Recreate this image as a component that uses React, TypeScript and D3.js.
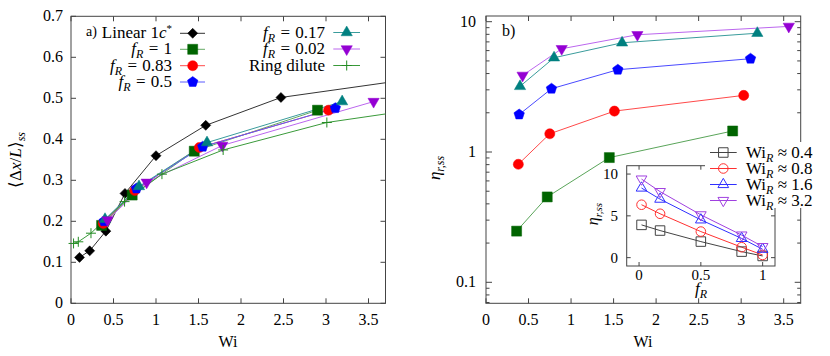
import React from 'react';
import * as d3 from 'd3';

// ---- data ----
const wiLinear = [0.1, 0.22, 0.41, 0.635, 1.0, 1.585, 2.47, 4.9];
const extLinear = [0.112, 0.128, 0.176, 0.268, 0.36, 0.434, 0.502, 0.573];
const wiRing = [0.03, 0.086, 0.235, 0.63, 1.07, 1.79, 3.01, 4.8];
const extRing = [0.146, 0.15, 0.171, 0.248, 0.315, 0.374, 0.441, 0.495];

const wiF1 = [0.36, 0.72, 1.45, 2.9];
const wiF083 = [0.38, 0.75, 1.51, 3.03];
const wiF05 = [0.39, 0.77, 1.55, 3.11];
const wiF017 = [0.4, 0.8, 1.6, 3.19];
const wiF002 = [0.43, 0.89, 1.78, 3.56];

const extF1 = [0.19, 0.264, 0.371, 0.471];
const extF083 = [0.195, 0.275, 0.38, 0.471];
const extF05 = [0.2, 0.28, 0.382, 0.476];
const extF017 = [0.205, 0.285, 0.392, 0.492];
const extF002 = [0.203, 0.295, 0.385, 0.492];

const etaF1 = [0.247, 0.452, 0.906, 1.45];
const etaF083 = [0.805, 1.38, 2.06, 2.72];
const etaF05 = [1.94, 3.06, 4.28, 5.2];
const etaF017 = [3.19, 5.29, 6.89, 8.16];
const etaF002 = [3.87, 6.2, 7.94, 9.2];

const fInset = [0.02, 0.17, 0.5, 0.83, 1];
const etaWi04 = [3.92, 3.24, 1.92, 0.72, 0.2];
const etaWi08 = [6.33, 5.25, 3.12, 1.25, 0.32];
const etaWi16 = [8.33, 7.0, 4.52, 2.3, 1.0];
const etaWi32 = [9.4, 7.9, 5.12, 2.7, 1.32];

const wiTicks = [0, 0.5, 1, 1.5, 2, 2.5, 3, 3.5];
const extTicks = [0, 0.1, 0.2, 0.3, 0.4, 0.5, 0.6, 0.7];
const insetXTicks = [0, 0.5, 1];
const insetYTicks = [0, 5, 10];

const FONT = 'Liberation Serif';
const AX = '#444';

type Shape = 'diamond' | 'square' | 'circle' | 'pentagon' | 'tri' | 'itri' | 'plus';

const Marker: React.FC<{ shape: Shape; x: number; y: number; color: string; open?: boolean; s?: number }> = ({ shape, x, y, color, open, s = 1 }) => {
  const fill = open ? 'none' : color;
  const sw = open ? 1 : 0.5;
  let d = '';
  let rot = 0;
  if (shape === 'diamond') { d = d3.symbol(d3.symbolSquare, 50 * s * s)() || ''; rot = 45; }
  if (shape === 'square') d = d3.symbol(d3.symbolSquare, 100 * s * s)() || '';
  if (shape === 'circle') d = d3.symbol(d3.symbolCircle, 80 * s * s)() || '';
  if (shape === 'tri') d = d3.symbol(d3.symbolTriangle, 55 * s * s)() || '';
  if (shape === 'itri') { d = d3.symbol(d3.symbolTriangle, 55 * s * s)() || ''; rot = 180; }
  if (shape === 'pentagon') {
    const r = 5.5 * s;
    const pts = d3.range(5).map(i => {
      const a = -Math.PI / 2 + (i * 2 * Math.PI) / 5;
      return [r * Math.cos(a), r * Math.sin(a)] as [number, number];
    });
    d = (d3.line()(pts) || '') + 'Z';
  }
  if (shape === 'plus') {
    return (
      <g transform={`translate(${x},${y})`} stroke={color} strokeWidth={1}>
        <line x1={-5} x2={5} y1={0} y2={0} />
        <line x1={0} x2={0} y1={-5} y2={5} />
      </g>
    );
  }
  return <path d={d} transform={`translate(${x},${y}) rotate(${rot})`} fill={fill} stroke={color} strokeWidth={sw} />;
};

interface Series { xs: number[]; ys: number[]; shape: Shape; mark: string; line: string; }

const leftSeries: Series[] = [
  { xs: wiLinear, ys: extLinear, shape: 'diamond', mark: '#000', line: '#333' },
  { xs: wiF1, ys: extF1, shape: 'square', mark: '#006400', line: '#66aa66' },
  { xs: wiF083, ys: extF083, shape: 'circle', mark: '#ff0000', line: '#ff4a4a' },
  { xs: wiF05, ys: extF05, shape: 'pentagon', mark: '#0000ff', line: '#5a5aff' },
  { xs: wiF017, ys: extF017, shape: 'tri', mark: '#008080', line: '#3a9c9c' },
  { xs: wiF002, ys: extF002, shape: 'itri', mark: '#9400d3', line: '#bb66ee' },
  { xs: wiRing, ys: extRing, shape: 'plus', mark: '#228b22', line: '#3a9a3a' },
];

const rightSeries: Series[] = [
  { xs: wiF1, ys: etaF1, shape: 'square', mark: '#006400', line: '#5aa55a' },
  { xs: wiF083, ys: etaF083, shape: 'circle', mark: '#ff0000', line: '#ff4a4a' },
  { xs: wiF05, ys: etaF05, shape: 'pentagon', mark: '#0000ff', line: '#4a4aff' },
  { xs: wiF017, ys: etaF017, shape: 'tri', mark: '#008080', line: '#3a9c9c' },
  { xs: wiF002, ys: etaF002, shape: 'itri', mark: '#9400d3', line: '#bb66ee' },
];

const insetSeries: Series[] = [
  { xs: fInset, ys: etaWi04, shape: 'square', mark: '#444', line: '#444' },
  { xs: fInset, ys: etaWi08, shape: 'circle', mark: '#ff3030', line: '#ff3030' },
  { xs: fInset, ys: etaWi16, shape: 'tri', mark: '#3030ff', line: '#3030ff' },
  { xs: fInset, ys: etaWi32, shape: 'itri', mark: '#a040e0', line: '#a040e0' },
];

const FR: React.FC<{ v: string }> = ({ v }) => (
  <>
    <tspan fontStyle="italic">f</tspan>
    <tspan fontStyle="italic" fontSize={12} dy={4}>R</tspan>
    <tspan dy={-4} dx={1}>{' ='}</tspan>
    <tspan dx={1}>{` ${v}`}</tspan>
  </>
);

const WIR: React.FC<{ v: string }> = ({ v }) => (
  <>
    <tspan>Wi</tspan>
    <tspan fontStyle="italic" fontSize={12} dy={4}>R</tspan>
    <tspan dy={-4}>{' ≈'}</tspan>
    <tspan>{` ${v}`}</tspan>
  </>
);

// text with the serif face forced on the element itself
const T: React.FC<React.SVGProps<SVGTextElement>> = props => (
  <text {...props} fontFamily={FONT} style={{ fontFamily: FONT }} />
);

export default function App() {
  // left panel
  const xL = d3.scaleLinear().domain([0, 3.7]).range([71, 385.5]);
  const yL = d3.scaleLinear().domain([0, 0.7]).range([303.3, 16.3]);
  // right panel
  const xR = d3.scaleLinear().domain([0, 3.7]).range([486, 800.7]);
  const yR = d3.scaleLog().domain([0.069, 11.06]).range([303.3, 16]);
  // inset
  const xI = d3.scaleLinear().domain([-0.1, 1.1]).range([626.7, 775]);
  const yI = d3.scaleLinear().domain([-1, 11]).range([266, 165.7]);

  const lineGen = (xs: any, ys: any) =>
    d3.line<[number, number]>().x(d => xs(d[0])).y(d => ys(d[1]));

  const renderSeries = (list: Series[], xs: any, ys: any, clip: string, open = false, ms = 1) => (
    <g>
      <g clipPath={`url(#${clip})`}>
        {list.map((s, i) => (
          <path key={i} d={lineGen(xs, ys)(s.xs.map((x, j) => [x, s.ys[j]] as [number, number])) || ''} fill="none" stroke={s.line} strokeWidth={1} />
        ))}
      </g>
      {list.map((s, i) => (
        <g key={i}>
          {s.xs.map((x, j) =>
            x >= xs.domain()[0] && x <= xs.domain()[1] ? (
              <Marker key={j} shape={s.shape} x={xs(x)} y={ys(s.ys[j])} color={s.mark} open={open} s={ms} />
            ) : null
          )}
        </g>
      ))}
    </g>
  );

  const frame = (xs: any, ys: any) => {
    const [x0, x1] = xs.range();
    const [y0, y1] = ys.range();
    return <rect x={x0} y={y1} width={x1 - x0} height={y0 - y1} fill="none" stroke={AX} strokeWidth={1} />;
  };

  const legL = [
    { label: <><tspan>Linear 1</tspan><tspan fontStyle="italic">c</tspan><tspan fontSize={11} dy={-6}>*</tspan></>, s: leftSeries[0], y: 33.3 },
    { label: <FR v="1" />, s: leftSeries[1], y: 49.3 },
    { label: <FR v="0.83" />, s: leftSeries[2], y: 65.7 },
    { label: <FR v="0.5" />, s: leftSeries[3], y: 82 },
  ];
  const legL2 = [
    { label: <FR v="0.17" />, s: leftSeries[4], y: 32.5 },
    { label: <FR v="0.02" />, s: leftSeries[5], y: 49 },
    { label: <tspan>Ring dilute</tspan>, s: leftSeries[6], y: 65.5 },
  ];
  const legI = [
    { v: '0.4', s: insetSeries[0], y: 152.5 },
    { v: '0.8', s: insetSeries[1], y: 168.5 },
    { v: '1.6', s: insetSeries[2], y: 184.5 },
    { v: '3.2', s: insetSeries[3], y: 200.5 },
  ];

  const majorEta = yR.ticks().filter(t => Math.abs(Math.log10(t) - Math.round(Math.log10(t))) < 1e-6);
  const minorEta = yR.ticks().filter(t => !majorEta.includes(t));

  return (
    <div style={{ position: 'absolute', left: 0, top: 0 }}>
      <svg width={830} height={356} style={{ display: 'block', background: '#fff' }}>
        <defs>
          <clipPath id="clipL"><rect x={71} y={16.3} width={314.5} height={287} /></clipPath>
          <clipPath id="clipR"><rect x={486} y={16} width={314.7} height={287.3} /></clipPath>
          <clipPath id="clipI"><rect x={626.7} y={165.7} width={148.3} height={100.3} /></clipPath>
        </defs>

        {/* ---------- panel a ---------- */}
        {wiTicks.map(t => (
          <g key={t}>
            <line x1={xL(t)} x2={xL(t)} y1={303.3} y2={298.3} stroke={AX} />
            <line x1={xL(t)} x2={xL(t)} y1={16.3} y2={21.3} stroke={AX} />
            <T x={xL(t)} y={325} fontSize={16} textAnchor="middle">{t}</T>
          </g>
        ))}
        {extTicks.map(t => (
          <g key={t}>
            <line x1={71} x2={76} y1={yL(t)} y2={yL(t)} stroke={AX} />
            <line x1={385.5} x2={380.5} y1={yL(t)} y2={yL(t)} stroke={AX} />
            <T x={63} y={yL(t) + 5} fontSize={16} textAnchor="end">{t}</T>
          </g>
        ))}
        {frame(xL, yL)}
        <T x={228} y={347} fontSize={16} textAnchor="middle">Wi</T>
        <T transform="translate(21,160) rotate(-90)" fontSize={17} textAnchor="middle">
          <tspan>⟨Δ</tspan><tspan fontStyle="italic">x</tspan><tspan>/</tspan><tspan fontStyle="italic">L</tspan><tspan>⟩</tspan>
          <tspan fontStyle="italic" fontSize={12} dy={4}>ss</tspan>
        </T>
        <T x={86} y={36} fontSize={14}>a)</T>

        {renderSeries(leftSeries, xL, yL, 'clipL')}

        {legL.map((l, i) => (
          <g key={i}>
            <T x={172} y={l.y + 5} fontSize={17} textAnchor="end">{l.label}</T>
            <line x1={180} x2={205} y1={l.y} y2={l.y} stroke={l.s.line} />
            <Marker shape={l.s.shape} x={192.7} y={l.y} color={l.s.mark} />
          </g>
        ))}
        {legL2.map((l, i) => (
          <g key={i}>
            <T x={325} y={l.y + 5} fontSize={17} textAnchor="end">{l.label}</T>
            <line x1={333.3} x2={360} y1={l.y} y2={l.y} stroke={l.s.line} />
            <Marker shape={l.s.shape} x={346.7} y={l.y} color={l.s.mark} />
          </g>
        ))}

        {/* ---------- panel b ---------- */}
        {wiTicks.map(t => (
          <g key={t}>
            <line x1={xR(t)} x2={xR(t)} y1={303.3} y2={298.3} stroke={AX} />
            <line x1={xR(t)} x2={xR(t)} y1={16} y2={21} stroke={AX} />
            <T x={xR(t)} y={325} fontSize={16} textAnchor="middle">{t}</T>
          </g>
        ))}
        {majorEta.map(t => (
          <g key={t}>
            <line x1={486} x2={492} y1={yR(t)} y2={yR(t)} stroke={AX} />
            <line x1={800.7} x2={794.7} y1={yR(t)} y2={yR(t)} stroke={AX} />
            <T x={476} y={yR(t) + 5} fontSize={16} textAnchor="end">{t}</T>
          </g>
        ))}
        {minorEta.map(t => (
          <g key={t}>
            <line x1={486} x2={489.5} y1={yR(t)} y2={yR(t)} stroke={AX} />
            <line x1={800.7} x2={797.2} y1={yR(t)} y2={yR(t)} stroke={AX} />
          </g>
        ))}
        {frame(xR, yR)}
        <T x={643} y={347} fontSize={16} textAnchor="middle">Wi</T>
        <T transform="translate(440,168) rotate(-90)" fontSize={17} textAnchor="middle">
          <tspan fontStyle="italic">η</tspan>
          <tspan fontStyle="italic" fontSize={12} dy={4}>r,ss</tspan>
        </T>
        <T x={502} y={36} fontSize={16}>b)</T>

        {renderSeries(rightSeries, xR, yR, 'clipR')}

        {/* inset */}
        <rect x={626.7} y={165.7} width={148.3} height={100.3} fill="#fff" />
        {insetXTicks.map(t => (
          <g key={t}>
            <line x1={xI(t)} x2={xI(t)} y1={266} y2={262} stroke={AX} />
            <line x1={xI(t)} x2={xI(t)} y1={165.7} y2={169.7} stroke={AX} />
            <T x={xI(t)} y={279.5} fontSize={15} textAnchor="middle">{t}</T>
          </g>
        ))}
        {insetYTicks.map(t => (
          <g key={t}>
            <line x1={626.7} x2={630.7} y1={yI(t)} y2={yI(t)} stroke={AX} />
            <line x1={775} x2={771} y1={yI(t)} y2={yI(t)} stroke={AX} />
            <T x={618} y={yI(t) + 5} fontSize={15} textAnchor="end">{t}</T>
          </g>
        ))}
        {frame(xI, yI)}
        {renderSeries(insetSeries, xI, yI, 'clipI', true, 0.95)}
        <T x={701} y={294} fontSize={17} textAnchor="middle">
          <tspan fontStyle="italic">f</tspan><tspan fontStyle="italic" fontSize={12} dy={4}>R</tspan>
        </T>
        <T transform="translate(598,214) rotate(-90)" fontSize={16} textAnchor="middle">
          <tspan fontStyle="italic">η</tspan>
          <tspan fontStyle="italic" fontSize={11} dy={4}>r,ss</tspan>
        </T>

        {/* inset legend (white box over frame) */}
        <rect x={705} y={142} width={112} height={66} fill="#fff" />
        {legI.map((l, i) => (
          <g key={i}>
            <line x1={710} x2={736.7} y1={l.y} y2={l.y} stroke={l.s.line} />
            <Marker shape={l.s.shape} x={723.3} y={l.y} color={l.s.mark} open s={0.95} />
            <T x={746} y={l.y + 5} fontSize={17}><WIR v={l.v} /></T>
          </g>
        ))}
      </svg>
    </div>
  );
}
